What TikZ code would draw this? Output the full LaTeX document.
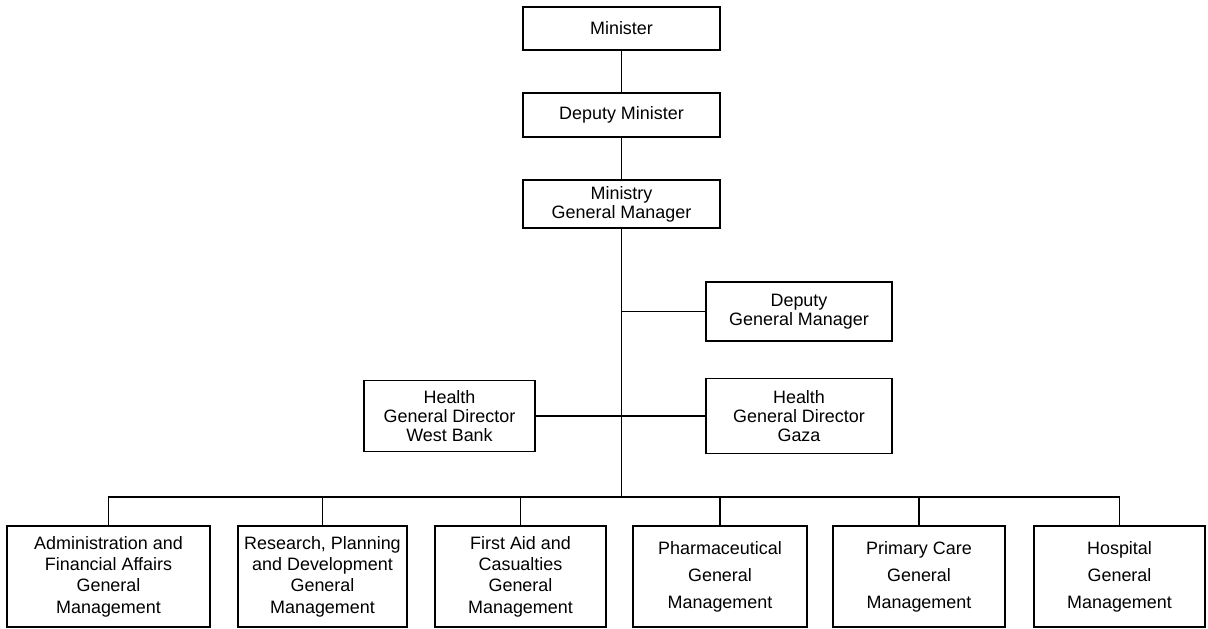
\documentclass[tikz,border=0pt]{standalone}
\usepackage{fontspec}
\setmainfont{Liberation Sans}

\begin{document}
\begin{tikzpicture}[x=1bp,y=-1bp]

\tikzset{unit/.style = {shape=rectangle,draw,line width=1.3bp,inner sep=2bp,align=center,font=\fontsize{18}{19}\selectfont}}
\tikzset{dept/.style = {unit,minimum height=101bp,font=\fontsize{18}{21.5}\selectfont}}
\tikzset{wide/.style = {font=\fontsize{18}{27}\selectfont}}
\tikzset{link/.style = {line width=1.3bp}}

\useasboundingbox (0,0) rectangle (1208,629);

% top of the chart
\node[unit, minimum width=197bp, minimum height=43bp] (min) at (621.5,28.5) {Minister};
\node[unit, minimum width=197bp, minimum height=44bp] (depmin) at (621.5,115) {Deputy Minister};
\node[unit, minimum width=197bp, minimum height=48bp] (genmgr) at (621.5,204) {Ministry\\General Manager};

% side units
\node[unit, minimum width=186bp, minimum height=59bp] (depgm) at (799,311.5) {Deputy\\General Manager};
\node[unit, minimum width=171bp, minimum height=71bp] (westbank) at (449.5,416) {Health\\General Director\\West Bank};
\node[unit, minimum width=186bp, minimum height=75bp] (gaza) at (799,416) {Health\\General Director\\Gaza};

% general managements
\node[dept, minimum width=203bp] (admin) at (108.5,576.5) {Administration and\\Financial Affairs\\General\\Management};
\node[dept, minimum width=169bp] (research) at (322.5,576.5) {Research, Planning\\and Development\\General\\Management};
\node[dept, minimum width=171bp] (firstaid) at (520.5,576.5) {First Aid and\\Casualties\\General\\Management};
\node[dept, wide, minimum width=174bp] (pharma) at (720,576.5) {Pharmaceutical\\General\\Management};
\node[dept, wide, minimum width=172bp] (primary) at (919,576.5) {Primary Care\\General\\Management};
\node[dept, wide, minimum width=171bp] (hospital) at (1119.5,576.5) {Hospital\\General\\Management};

\coordinate (bar) at (621.5,497);

%lines
\draw[link] (min) -- (depmin);
\draw[link] (depmin) -- (genmgr);
\draw[link] (genmgr) -- (bar);
\draw[link] (depgm.west) -- (genmgr.south |- depgm.west);
\draw[link] (westbank.east) -- (gaza.west);
\foreach \d in {admin,research,firstaid,pharma,primary,hospital}
  \draw[link] (\d.north) |- (bar);

\end{tikzpicture}
\end{document}
